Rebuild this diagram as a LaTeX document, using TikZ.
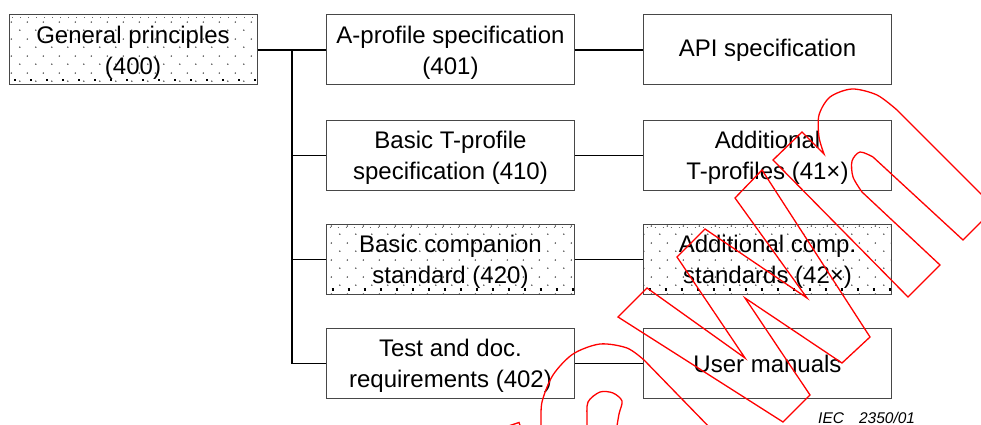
\documentclass[tikz,border=0pt]{standalone}
\usepackage{fontspec}
\setmainfont{Liberation Sans}
\usetikzlibrary{patterns.meta}

% light staggered dot fill used for the shaded boxes
\tikzdeclarepattern{
  name=sparsedots,
  type=uncolored,
  bounding box={(0pt,0pt) and (16pt,17pt)},
  tile size={(16pt,17pt)},
  code={
    \tikzset{x=1pt,y=1pt}
    \fill (4,4) circle [radius=0.85];
    \fill (12,12.5) circle [radius=0.85];
  }
}

% strut: 23.6pt above the baseline, 6pt below, for two-line labels
\newcommand\labelstrut{\rule[-6pt]{0pt}{29.6pt}}

\tikzset{
  box/.style={draw=black!72, line width=1pt, minimum width=248pt, minimum height=70pt,
    inner sep=0pt, align=center, text=black, font=\fontsize{24pt}{31pt}\selectfont},
  dotbox/.style={box, pattern={sparsedots}, pattern color=black!75,
    path picture={
      \draw[black!60, line width=1pt, dash pattern=on 1pt off 7pt, dash phase=-3pt]
        ([yshift=-2.5pt]path picture bounding box.north west) -- ([yshift=-2.5pt]path picture bounding box.north east);
      \draw[black, line width=2.2pt, dash pattern=on 2.2pt off 13.8pt, dash phase=-5pt]
        ([yshift=5pt]path picture bounding box.south west) -- ([yshift=5pt]path picture bounding box.south east);
    }},
  link/.style={draw=black, line width=1.2pt},
  wmark/.style={draw=red, line width=1.3pt, line join=miter}
}

\begin{document}
\begin{tikzpicture}[x=1pt, y=-1pt]
  \fill[white] (0,0) rectangle (981,425);
  \useasboundingbox (0,0) rectangle (981,425);

  % boxes
  \node[dotbox] (gp)  at (133,50)      {\labelstrut General principles\\(400)\labelstrut};
  \node[box]    (ap)  at (450.5,50)    {\labelstrut A-profile specification\\(401)\labelstrut};
  \node[box]    (api) at (767.5,50)    {API specification};
  \node[box]    (bt)  at (450.5,155.5) {\labelstrut Basic T-profile\\specification (410)\labelstrut};
  \node[box]    (at)  at (767.5,155.5) {\labelstrut Additional\\T-profiles (41×)\labelstrut};
  \node[dotbox] (bc)  at (450.5,259.5) {\labelstrut Basic companion\\standard (420)\labelstrut};
  \node[dotbox] (ac)  at (767.5,259.5) {\labelstrut Additional comp.\\standards (42×)\labelstrut};
  \node[box]    (td)  at (450.5,363.5) {\labelstrut Test and doc.\\requirements (402)\labelstrut};
  \node[box]    (um)  at (767.5,363.5) {User manuals};

  % tree connectors
  \coordinate (jtop) at (292,50);
  \coordinate (jbot) at (292,363.5);
  \draw[link] (gp.east) -- (ap.west);
  \draw[link] (jtop) -- (jbot);
  \draw[link] (bt.west -| jtop) -- (bt.west);
  \draw[link] (bc.west -| jtop) -- (bc.west);
  \draw[link] (td.west -| jtop) -- (td.west);

  \draw[link] (ap.east) -- (api.west);
  \draw[link] (bt.east) -- (at.west);
  \draw[link] (bc.east) -- (ac.west);
  \draw[link] (td.east) -- (um.west);

  % figure reference
  \node[anchor=base west, inner sep=0pt, font=\fontsize{15.5pt}{18pt}\selectfont\itshape]
    (iec) at (818,423) {IEC\hspace{15pt}2350/01};

  % outlined red stamp lettering
  \begin{scope}
    \clip (0,0) rectangle (981,425);
    % W
    \draw[wmark] (762,170) -- (870,337) -- (842,363) -- (745,298) -- (810,395)
      -- (783,422) -- (618,317) -- (647,288) -- (745,358) -- (677,257)
      -- (705,229) -- (807,298) -- (735,198) -- cycle;
    % n
    \draw[wmark] (773,160) -- (908,297) -- (940,265) -- (862,192)
      -- plot[smooth] coordinates {(862,192) (853,177) (852,161) (860,152) (873,157)}
      -- (963,240) -- (995,208) -- (897,110)
      -- plot[smooth] coordinates {(897,110) (877,95) (852,89) (830,97) (819,115) (819,137) (824,154)}
      -- (802,132) -- cycle;
    % bowl letter at the lower left
    \draw[wmark] plot[smooth] coordinates {(540,434) (541,426) (542,402) (553,375) (573,354) (600,344) (627,348) (644,360)}
      -- (714,432);
    \draw[wmark] plot[smooth] coordinates {(587,432) (587,420) (588,402) (600,392) (613,393) (622,401) (619,414) (616,432)};
    \draw[wmark] (504,427.5) -- (519,422.5) -- (521,428);
  \end{scope}
\end{tikzpicture}
\end{document}
